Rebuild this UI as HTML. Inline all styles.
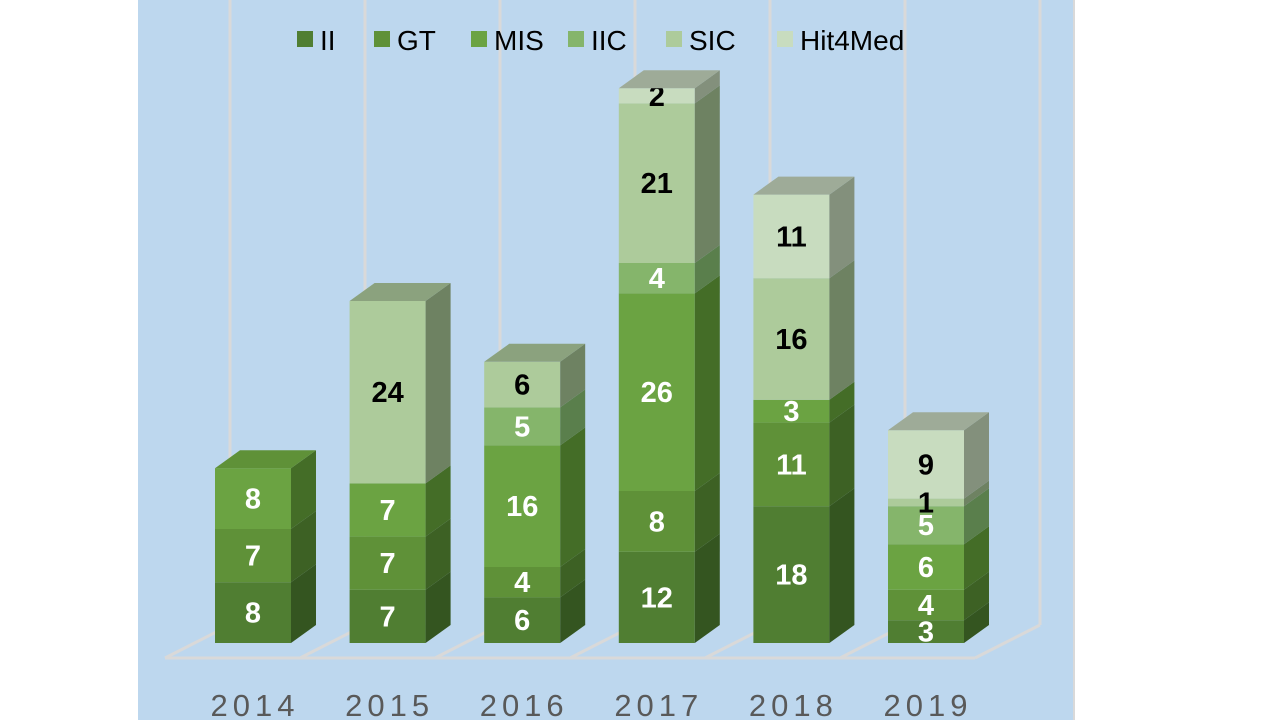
<!DOCTYPE html>
<html><head><meta charset="utf-8"><style>
html,body{margin:0;padding:0;background:#fff;width:1280px;height:720px;overflow:hidden}
svg{display:block;font-family:"Liberation Sans",sans-serif}
</style></head><body>
<svg id="chart" width="1280" height="720">
<rect x="138" y="0" width="936" height="720" fill="#bdd7ee"/>
<line x1="1074" y1="0" x2="1074" y2="720" stroke="#d9d9d9" stroke-width="2"/>
<g id="grid"></g><g id="bars"></g><g id="legend"></g><g id="xaxis"></g>
</svg>
<script>
const categories=["2014","2015","2016","2017","2018","2019"];
const seriesNames=["II","GT","MIS","IIC","SIC","Hit4Med"];
const seriesII=[8,7,6,12,18,3];
const seriesGT=[7,7,4,8,11,4];
const seriesMIS=[8,7,16,26,3,6];
const seriesIIC=[0,0,5,4,0,5];
const seriesSIC=[0,24,6,21,16,1];
const seriesHit4Med=[0,0,0,2,11,9];
const series=[seriesII,seriesGT,seriesMIS,seriesIIC,seriesSIC,seriesHit4Med];
const front=["#507e32","#5f9138","#6ba342","#85b56b","#adcb9b","#c8dcbf"];
const side=["#345520","#3d6124","#446d27","#5a7f4c","#6e8262","#83907c"];
const topc=["#4a742e","#537f31","#5f9138","#779f60","#8ba27e","#9eab98"];
const txtc=["#fff","#fff","#fff","#fff","#000","#000"];
const NS="http://www.w3.org/2000/svg";
const base=643,scale=7.6,bw=76,dx=25,dy=-18,x0=215,step=134.6;
const y=v=>base-v*scale;
const xb=i=>x0+i*step;
function mk(tag,attrs,parent){const e=document.createElementNS(NS,tag);for(const k in attrs)e.setAttribute(k,attrs[k]);parent.appendChild(e);return e;}
const grid=document.getElementById('grid');
for(let k=0;k<7;k++){
 const gx=230+k*135;
 const l=mk('line',{x1:gx,y1:0,x2:gx,y2:625,stroke:'#d9d9d9','stroke-width':3},grid);
 
 
 const d=mk('line',{x1:gx-65,y1:658,x2:gx,y2:625,stroke:'#d9d9d9','stroke-width':3},grid);
 
 
}
const fl=mk('line',{x1:165,y1:658,x2:975,y2:658,stroke:'#d9d9d9','stroke-width':3},grid);


const bars=document.getElementById('bars');
categories.forEach((c,i)=>{
 let cum=0;const x=xb(i);let last=-1;
 series.forEach((s,j)=>{
  const v=s[i];if(!v)return;
  const y1=y(cum),y2=y(cum+v);
  const g=mk('g',{},bars);
  
  
  mk('rect',{x:x,y:y2,width:bw,height:y1-y2,fill:front[j]},g);
  mk('polygon',{points:`${x+bw},${y1} ${x+bw+dx},${y1+dy} ${x+bw+dx},${y2+dy} ${x+bw},${y2}`,fill:side[j]},g);
  cum+=v;last=j;
 });
 let tcum=0;
 series.forEach((s,j)=>{
  const v=s[i];if(!v)return;
  const t=mk('text',{x:x+bw/2,y:y(tcum+v/2)+10,'text-anchor':'middle','font-size':29,'font-weight':'bold',fill:txtc[j]},bars);
  t.textContent=v;
  
  
  tcum+=v;
 });
 const yt=y(cum);
 const tp=mk('polygon',{points:`${x},${yt} ${x+dx},${yt+dy} ${x+bw+dx},${yt+dy} ${x+bw},${yt}`,fill:topc[last]},bars);
 
 
 const xl=mk('text',{x:x+bw/2+2,y:716,'text-anchor':'middle','font-size':31,fill:'#595959','letter-spacing':5},document.getElementById('xaxis'));
 xl.textContent=c;
 
 
});
const legend=document.getElementById('legend');
const lx=[297,374,471,568,666,777];
seriesNames.forEach((n,j)=>{
 const g=mk('g',{},legend);
 
 
 mk('rect',{x:lx[j],y:31,width:16,height:16,fill:front[j]},g);
 const t=mk('text',{x:lx[j]+23,y:50,'font-size':28,fill:'#000'},g);
 t.textContent=n;
});
</script>
</body></html>
